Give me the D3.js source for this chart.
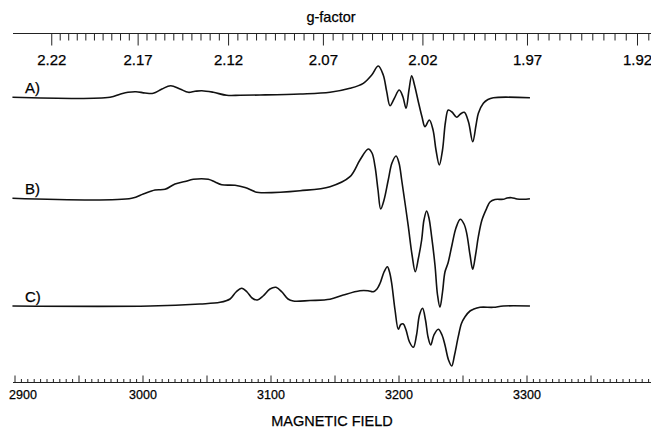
<!DOCTYPE html>
<html>
<head>
<meta charset="utf-8">
<script src="https://cdn.jsdelivr.net/npm/d3@7"></script>
<style>
  body { margin: 0; background: #fff; }
  text { font-family: "Liberation Sans", Arial, sans-serif; fill: #000; stroke: #000; stroke-width: 0.25; }
</style>
</head>
<body>
<svg id="chart" width="651" height="427"></svg>
<script>
// spectrum A (field in G, derivative intensity in a.u.)
var fieldA = [2898, 2974.2, 2982, 2988.3, 2994.5, 3001.6, 3008, 3014.8, 3021.6, 3028.9, 3035.4, 3040.6, 3045.9,
    3054.9, 3065.4, 3075.8, 3091.4, 3122.7, 3146.1, 3161.7, 3172.1, 3178.7, 3183.8, 3187.7, 3190.4, 3193,
    3196.1, 3200.2, 3203.1, 3205.5, 3207.8, 3209.9, 3212.1, 3215.1, 3218, 3220.3, 3223.7, 3226.6, 3228.9,
    3231.5, 3234, 3236.3, 3238.5, 3241.4, 3245.1, 3248, 3251, 3254.3, 3257.6, 3260.2, 3262, 3265.9, 3269.5,
    3273.7, 3302.3];
var valueA = [0, 0, 3, 5, 5.6, 4.3, 4, 8.3, 11.6, 8.3, 5, 6, 6.6,
    5, 2, 2, 2.3, 3.3, 5, 9, 14, 22.3, 31.3, 22.3, 5.6, -8.4,
    -1.7, 7.3, 0.3, -11, 7.3, 21.6, 12.3, -4.4, -19.7, -29.4, -22.7, -32.7, -52.7,
    -67.7, -52.7, -24.7, -12.7, -14.7, -20, -16.7, -15, -24.7, -44.4, -27.7, -16, -6, -2.2,
    -0.4, -0.4];

// spectrum B
var fieldB = [2898, 2991.2, 3000.2, 3009.4, 3017.2, 3025, 3032.8, 3039.3, 3051, 3056.3, 3061.5, 3071.9, 3079.7,
    3088.8, 3094, 3122.7, 3146.1, 3161.7, 3169.5, 3176, 3178.9, 3181.3, 3183.6, 3185.7, 3188.3, 3191.6,
    3194.5, 3197.7, 3200, 3202.1, 3204.7, 3207.3, 3210.2, 3212.7, 3215.2, 3217.7, 3219.5, 3221.6, 3223.4,
    3225.5, 3228.1, 3230.1, 3232, 3234, 3235.9, 3238.3, 3241.4, 3244.5, 3247.9, 3250.8, 3252.9, 3255.5,
    3257.6, 3259.8, 3262, 3264.8, 3268.5, 3271.1, 3275, 3281.5, 3284.4, 3288, 3292.2, 3297.1, 3302.3];
var valueB = [0, 0, 4.3, 8.3, 9, 14.3, 16.8, 19, 19, 16.3, 13.6, 13, 10.8,
    6, 5.6, 7.6, 11.6, 21.6, 38.3, 49.3, 45.3, 31.6, 8.3, -10.7, -1.7, 18.3,
    35.3, 42.3, 35.3, 18.3, -4.7, -28.4, -56.7, -73.4, -59.7, -41.7, -21.7, -12.7, -19.7,
    -38.4, -66.7, -96.7, -109, -93.7, -73.7, -64.7, -46.7, -29.7, -21, -25.7, -35, -56.7,
    -71, -56.7, -38.4, -21.7, -10, -3.7, -1.2, -1, 0.3, 0.6, -0.7, -1, -0.4];

// spectrum C
var fieldC = [2898, 3005.5, 3044.5, 3060.2, 3068, 3072.7, 3077.1, 3081.3, 3085.2, 3089.3, 3093.8, 3099.2, 3103.9,
    3108.6, 3113.3, 3117.4, 3130.5, 3146.1, 3156.5, 3169.5, 3175.8, 3179.9, 3182.8, 3185.2, 3188.3, 3190.9,
    3192.6, 3194.3, 3196.9, 3199.5, 3201.4, 3203.4, 3205.5, 3208.2, 3211.2, 3213.7, 3216, 3218.4, 3220.7,
    3222.7, 3224.8, 3227.3, 3230.7, 3233.6, 3235.9, 3238.7, 3241.2, 3243.4, 3246.3, 3248.8, 3251.6, 3255.5,
    3258, 3263.3, 3273.7, 3281.5, 3302.3];
var valueC = [0, 0, 2, 3.7, 7, 14, 17.7, 14, 8, 6, 10, 17, 18.7,
    14, 7, 5, 5.5, 6.7, 11, 15.3, 15.3, 14.3, 17, 22.7, 34, 39.3,
    34, 22.7, -4, -23.3, -18.5, -18, -24, -36, -41.3, -29, -9, -2.3, -14,
    -31, -39, -29, -23.3, -29, -39, -54, -60, -49, -30.7, -17.5, -10.7, -5,
    -3.3, -1.3, -1.3, 0, 0];

var spectrumLabels = ["A)", "B)", "C)"];

// axes
var fieldMajor = [2900, 2950, 3000, 3050, 3100, 3150, 3200, 3250, 3300, 3350];
var fieldLabels = [2900, 3000, 3100, 3200, 3300];
var gLabels = [2.22, 2.17, 2.12, 2.07, 2.02, 1.97, 1.92];
var mwFrequency = 9.1; // GHz, links the g-factor axis to the field axis

var svg = d3.select("#chart");
var x = d3.scaleLinear().domain([2900, 3400]).range([15, 655]);
var y = d3.scaleLinear().domain([-100, 100]).range([100, -100]);
var fieldOfG = function(g){ return 714.477 * mwFrequency / g; };

var traces = [
    { field: fieldA, value: valueA, base: 97.3 },
    { field: fieldB, value: valueB, base: 198.3 },
    { field: fieldC, value: valueC, base: 306 }
];

// spectra
traces.forEach(function(t, i){
    var pts = t.field.map(function(f, j){ return [f, t.value[j]]; });
    var line = d3.line()
        .x(function(d){ return x(d[0]); })
        .y(function(d){ return t.base + y(d[1]); })
        .curve(d3.curveCatmullRom.alpha(0.5));
    svg.append("path")
        .attr("d", line(pts))
        .attr("fill", "none")
        .attr("stroke", "#111")
        .attr("stroke-width", 1.6)
        .attr("stroke-linejoin", "round");
    svg.append("text")
        .attr("x", 25)
        .attr("y", t.base - 4)
        .attr("font-size", 15)
        .text(spectrumLabels[i]);
});

// bottom (field) axis, ticks point up
var bottomY = 382.5;
var fieldTicks = d3.range(2900, 3400, 5);
svg.append("line")
    .attr("x1", 13).attr("x2", 651)
    .attr("y1", bottomY).attr("y2", bottomY)
    .attr("stroke", "#222").attr("stroke-width", 1.2);
svg.selectAll("line.ftick")
    .data(fieldTicks)
    .enter().append("line")
    .attr("class", "ftick")
    .attr("x1", function(d){ return x(d); })
    .attr("x2", function(d){ return x(d); })
    .attr("y1", bottomY)
    .attr("y2", function(d){ return fieldMajor.indexOf(d) >= 0 ? bottomY - 7 : bottomY - 3.5; })
    .attr("stroke", "#222").attr("stroke-width", 1);
svg.selectAll("text.flabel")
    .data(fieldLabels)
    .enter().append("text")
    .attr("class", "flabel")
    .attr("x", function(d, i){ return i == 0 ? x(d) + 8 : x(d); })
    .attr("y", 399)
    .attr("text-anchor", "middle")
    .attr("font-size", 12.5)
    .text(function(d){ return d; });
svg.append("text")
    .attr("x", 332).attr("y", 425.5)
    .attr("text-anchor", "middle")
    .attr("font-size", 14.5)
    .text("MAGNETIC FIELD");

// top (g-factor) axis, ticks point down
var topY = 33.5;
var gTicks = d3.range(0, 62).map(function(i){ return +(2.22 - i * 0.005).toFixed(3); });
svg.append("line")
    .attr("x1", 13).attr("x2", 651)
    .attr("y1", topY).attr("y2", topY)
    .attr("stroke", "#222").attr("stroke-width", 1.2);
svg.selectAll("line.gtick")
    .data(gTicks)
    .enter().append("line")
    .attr("class", "gtick")
    .attr("x1", function(d){ return x(fieldOfG(d)); })
    .attr("x2", function(d){ return x(fieldOfG(d)); })
    .attr("y1", topY)
    .attr("y2", function(d){ return gLabels.indexOf(d) >= 0 ? topY + 12 : topY + 7; })
    .attr("stroke", "#222").attr("stroke-width", 1);
svg.selectAll("text.glabel")
    .data(gLabels)
    .enter().append("text")
    .attr("class", "glabel")
    .attr("x", function(d){ return x(fieldOfG(d)); })
    .attr("y", 65)
    .attr("text-anchor", "middle")
    .attr("font-size", 15)
    .text(function(d){ return d.toFixed(2); });
svg.append("text")
    .attr("x", 331).attr("y", 22)
    .attr("text-anchor", "middle")
    .attr("font-size", 14.5)
    .text("g-factor");
</script>
</body>
</html>
